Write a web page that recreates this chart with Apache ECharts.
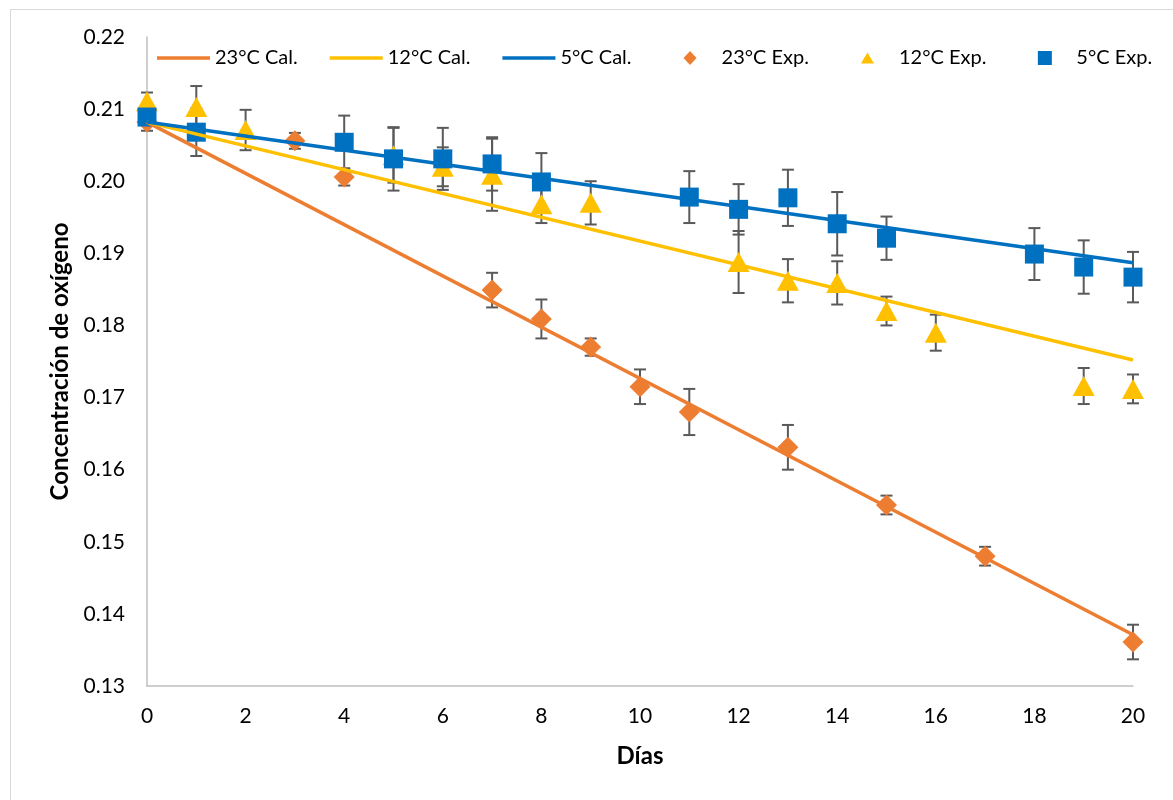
<!DOCTYPE html>
<html>
<head>
<meta charset="utf-8">
<script src="https://cdn.jsdelivr.net/npm/echarts@6/dist/echarts.min.js"></script>
<style>
  html, body { margin: 0; padding: 0; background: #fff; }
  #chart { width: 1173px; height: 800px; }
</style>
</head>
<body>
<div id="chart"></div>
<script>
// días de medición y valores
var calDays = [0, 20];
var cal23 = [0.2082, 0.1371];
var cal12 = [0.2082, 0.1752];
var cal5 = [0.2082, 0.1887];

var days23 = [0, 3, 4, 7, 8, 9, 10, 11, 13, 15, 17, 20];
var exp23 = [0.2082, 0.2056, 0.2006, 0.1849, 0.1809, 0.1770, 0.1715, 0.1680, 0.1631, 0.1551, 0.1480, 0.1361];
var err23 = [0.0012, 0.0011, 0.0012, 0.0024, 0.0027, 0.0012, 0.0024, 0.0032, 0.0031, 0.0013, 0.0013, 0.0024];

var days12 = [0, 1, 2, 5, 6, 7, 8, 9, 12, 13, 14, 15, 16, 19, 20];
var exp12 = [0.2111, 0.2103, 0.2071, 0.2036, 0.2020, 0.2009, 0.1968, 0.1970, 0.1888, 0.1862, 0.1859, 0.1820, 0.1790, 0.1716, 0.1712];
var err12 = [0.0012, 0.0029, 0.0028, 0.0038, 0.0027, 0.0050, 0.0026, 0.0030, 0.0043, 0.0030, 0.0030, 0.0020, 0.0025, 0.0025, 0.0020];

var days5 = [0, 1, 4, 5, 6, 7, 8, 11, 12, 13, 14, 15, 18, 19, 20];
var exp5 = [0.2089, 0.2068, 0.2054, 0.2031, 0.2031, 0.2024, 0.1999, 0.1978, 0.1961, 0.1977, 0.1941, 0.1921, 0.1899, 0.1881, 0.1867];
var err5 = [0.0010, 0.0033, 0.0037, 0.0044, 0.0043, 0.0037, 0.0040, 0.0036, 0.0035, 0.0039, 0.0044, 0.0030, 0.0036, 0.0037, 0.0035];

var xTicks = [0, 2, 4, 6, 8, 10, 12, 14, 16, 18, 20];
var yTicks = [0.13, 0.14, 0.15, 0.16, 0.17, 0.18, 0.19, 0.20, 0.21, 0.22];

var FONT = 'Lato, "Open Sans", sans-serif';

// iconos de la leyenda (caja de 53x16, el marcador centrado)
var ICON_LINE = 'path://M0,0M53,16M0,6.2H53V9.8H0Z';
var ICON_DIAMOND = 'path://M0,0M53,16M26.5,1L33,8L26.5,15L20,8Z';
var ICON_TRIANGLE = 'path://M0,0M53,16M26.5,2.5L33,13.5L20,13.5Z';
var ICON_SQUARE = 'path://M0,0M53,16M19.5,1H33.5V15H19.5Z';

function pairs(xs, ys) {
    return xs.map(function (x, i) { return [x, ys[i]]; });
}
function triples(xs, ys, es) {
    return xs.map(function (x, i) { return [x, ys[i], es[i]]; });
}

// barras de error
function errorBars(params, api) {
    var x = api.value(0), y = api.value(1), e = api.value(2);
    var top = api.coord([x, y + e]);
    var bot = api.coord([x, y - e]);
    var w = 6;
    var st = { stroke: '#5a5a5a', lineWidth: 2 };
    return {
        type: 'group',
        children: [
            { type: 'line', shape: { x1: top[0], y1: top[1], x2: bot[0], y2: bot[1] }, style: st },
            { type: 'line', shape: { x1: top[0] - w, y1: top[1], x2: top[0] + w, y2: top[1] }, style: st },
            { type: 'line', shape: { x1: bot[0] - w, y1: bot[1], x2: bot[0] + w, y2: bot[1] }, style: st }
        ]
    };
}

var chart = echarts.init(document.getElementById('chart'));

var option = {
    backgroundColor: '#fff',
    animation: false,
    textStyle: { fontFamily: FONT },
    graphic: [{
        type: 'rect',
        left: 8, top: 7,
        shape: { width: 1200, height: 820 },
        style: { fill: 'none', stroke: '#d9d9d9', lineWidth: 1 },
        silent: true
    }],
    grid: { left: 147, right: 40, top: 37, bottom: 114 },
    legend: {
        left: 152,
        top: 43,
        itemWidth: 53,
        itemHeight: 16,
        itemGap: 32,
        textStyle: { fontSize: 20, color: '#000', fontFamily: FONT },
        data: [
            { name: '23°C Cal.', icon: ICON_LINE },
            { name: '12°C Cal.', icon: ICON_LINE },
            { name: '5°C Cal.', icon: ICON_LINE },
            { name: '23°C Exp.', icon: ICON_DIAMOND },
            { name: '12°C Exp.', icon: ICON_TRIANGLE },
            { name: '5°C Exp.', icon: ICON_SQUARE }
        ]
    },
    xAxis: {
        type: 'value',
        min: 0, max: 20, interval: 2,
        name: 'Días',
        nameLocation: 'middle',
        nameGap: 58,
        nameTextStyle: { fontSize: 24, fontWeight: 'bold', color: '#000', fontFamily: FONT },
        axisLine: { show: true, lineStyle: { color: '#bfbfbf', width: 1.5 } },
        axisTick: { show: false },
        splitLine: { show: false },
        axisLabel: {
            fontSize: 21, color: '#000', margin: 20,
            customValues: xTicks
        }
    },
    yAxis: {
        type: 'value',
        min: 0.13, max: 0.22, interval: 0.01,
        name: 'Concentración de oxígeno',
        nameLocation: 'middle',
        nameGap: 73,
        nameTextStyle: { fontSize: 24, fontWeight: 'bold', color: '#000', fontFamily: FONT },
        axisLine: { show: true, lineStyle: { color: '#bfbfbf', width: 1.5 } },
        axisTick: { show: false },
        splitLine: { show: false },
        axisLabel: {
            fontSize: 21, color: '#000', margin: 22,
            customValues: yTicks,
            formatter: function (v) { return v.toFixed(2); }
        }
    },
    series: [
        {
            name: '23°C Cal.', type: 'line', data: pairs(calDays, cal23),
            symbol: 'none', lineStyle: { color: '#ED7D31', width: 3.5 }, itemStyle: { color: '#ED7D31' }
        },
        {
            name: '12°C Cal.', type: 'line', data: pairs(calDays, cal12),
            symbol: 'none', lineStyle: { color: '#FFC000', width: 3.5 }, itemStyle: { color: '#FFC000' }
        },
        {
            name: '5°C Cal.', type: 'line', data: pairs(calDays, cal5),
            symbol: 'none', lineStyle: { color: '#0070C0', width: 3.5 }, itemStyle: { color: '#0070C0' }
        },
        { type: 'custom', renderItem: errorBars, data: triples(days23, exp23, err23), encode: { x: 0, y: 1 } },
        {
            name: '23°C Exp.', type: 'scatter', data: pairs(days23, exp23),
            symbol: 'diamond', symbolSize: 21, itemStyle: { color: '#ED7D31', opacity: 1 }
        },
        { type: 'custom', renderItem: errorBars, data: triples(days12, exp12, err12), encode: { x: 0, y: 1 } },
        {
            name: '12°C Exp.', type: 'scatter', data: pairs(days12, exp12),
            symbol: 'triangle', symbolSize: [22, 20], itemStyle: { color: '#FFC000', opacity: 1 }
        },
        { type: 'custom', renderItem: errorBars, data: triples(days5, exp5, err5), encode: { x: 0, y: 1 } },
        {
            name: '5°C Exp.', type: 'scatter', data: pairs(days5, exp5),
            symbol: 'rect', symbolSize: 19, itemStyle: { color: '#0070C0', opacity: 1 }
        }
    ]
};

chart.setOption(option);
</script>
</body>
</html>
